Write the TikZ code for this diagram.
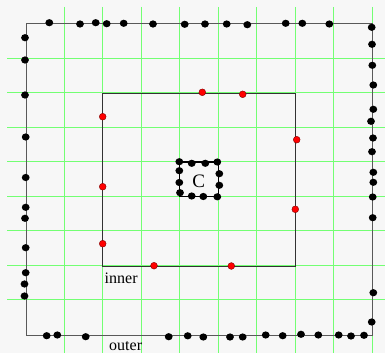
\documentclass[tikz,border=0pt]{standalone}
\usetikzlibrary{shapes.geometric}
\usepackage{fontspec}
\setmainfont{Liberation Serif}
\begin{document}
\begin{tikzpicture}[x=1pt,y=-1pt,
  bdot/.style={ellipse,fill=black,inner sep=0pt,minimum width=7.8pt,minimum height=7.2pt},
  rdot/.style={circle,fill=red,draw=red!50!black,line width=0.4pt,inner sep=0pt,minimum size=6.8pt},
  gridline/.style={draw=green!55!white,line width=0.8pt},
  boxline/.style={draw=black!65,line width=1pt},
  lbl/.style={font=\fontsize{16}{18}\selectfont,inner sep=0pt,anchor=west}]
\useasboundingbox (0,0) rectangle (385,353);
\fill[black!3] (0,0) rectangle (385,353);
% grid
\foreach \x in {64.3,102.8,141.3,179.8,218.3,256.8,295.3,333.8,372.3}
  \draw[gridline] (\x,7) -- (\x,353);
\foreach \y in {58.3,92.8,127.3,161.8,196.3,230.8,265.3,299.8}
  \draw[gridline] (7,\y) -- (385,\y);
% boxes
\coordinate (otl) at (26,24); \coordinate (obr) at (372.5,335);
\coordinate (itl) at (102.8,93); \coordinate (ibr) at (295.3,266);
\coordinate (ctl) at (179.8,162); \coordinate (cbr) at (218.3,196.5);
\draw[boxline] (otl) rectangle (obr);
\draw[draw=black!80,line width=0.9pt] (itl) rectangle (ibr);
\draw[black,line width=1.2pt] (ctl) rectangle (cbr);
\node[font=\fontsize{19}{21}\selectfont,inner sep=0pt] (c) at (198.7,181.5) {C};
\node[lbl] (inner) at (104.5,278) {inner};
\node[lbl] (outer) at (109,346.5) {outer};
% C box dots
\foreach \p [count=\i] in {(179.3,161.7),(191.7,163.3),(205.3,163.3),(217.3,162),(179.3,170.7),(219.3,173.7),(179.3,182.5),(219.3,185.3),(180,192.7),(191.7,196),(203.3,196.5),(217.3,196.8)}
  \node[bdot] (cd\i) at \p {};
% red dots
\foreach \p [count=\i] in {(102.7,116.7),(202.3,92.3),(242.7,94.3),(296.7,139.7),(102.7,186.7),(102.7,243.7),(154,265.7),(295.3,209.3),(231.3,266)}
  \node[rdot] (rd\i) at \p {};
% outer top
\foreach \p [count=\i] in {(49.3,22.7),(80,24),(95.7,22.7),(106.7,23.7),(123.7,23.3),(153,24),(184.7,24.3),(205,24),(226.7,24),(247.3,24.7),(285.7,23.3),(302.3,23.3),(329.3,24)}
  \node[bdot] (ot\i) at \p {};
% outer left
\foreach \p [count=\i] in {(25,37.7),(25,60),(25,95),(25.7,137),(25.7,177.5),(25.7,207.3),(25,218.3),(25.7,247.7),(25.7,272.7),(24.5,284),(24.5,296)}
  \node[bdot] (ol\i) at \p {};
% outer bottom
\foreach \p [count=\i] in {(46.7,335.7),(57.3,335),(85.7,336.7),(168.7,336.7),(187.7,335.8),(203.3,337),(230,337),(242.7,337),(265.7,335),(282.7,335.7),(301,334.3),(318.3,335),(338.7,335),(351,336),(364,335.3)}
  \node[bdot] (ob\i) at \p {};
% outer right
\foreach \p [count=\i] in {(371.7,27.3),(372,44.3),(372.3,65.3),(373.3,85),(373.3,109.3),(371,121.3),(373,138),(372,151.7),(373.3,172.3),(373.3,182.3),(372.7,197),(372.7,217.7),(373.3,292.7),(371.7,322)}
  \node[bdot] (or\i) at \p {};
\end{tikzpicture}
\end{document}
